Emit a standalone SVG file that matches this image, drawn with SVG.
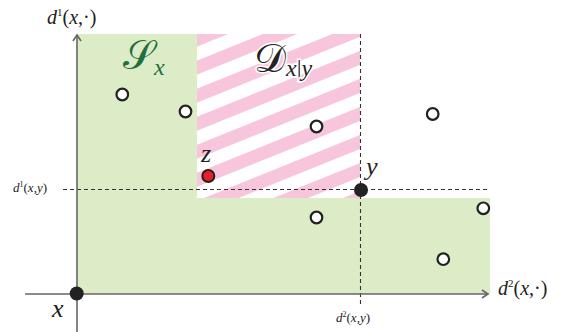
<svg xmlns="http://www.w3.org/2000/svg" width="565" height="332" viewBox="0 0 565 332">
<style>
.m{font-family:"Liberation Serif","DejaVu Serif",serif;fill:#222}
.i{font-style:italic}
.cal{font-family:"DejaVu Serif","DejaVu Sans",serif}
.open{fill:#fff;stroke:#222;stroke-width:2.2}
.dash{stroke:#333;stroke-width:1.1;stroke-dasharray:4 3;fill:none}
.axis{stroke:#666;stroke-width:1.6;fill:none}
</style>
<defs>
<pattern id="hatch" width="26" height="26" patternUnits="userSpaceOnUse" patternTransform="rotate(-22)">
<rect width="26" height="26" fill="#fff"/>
<rect width="26" height="13" fill="#f8c6dc"/>
</pattern>
</defs>
<g id="region-S">
<path d="M77,34 H197 V198 H490 V294 H77 Z" fill="#dcecc7"/>
</g>
<g id="region-D">
<rect x="197" y="34" width="163" height="164" fill="url(#hatch)"/>
</g>
<g id="connectors">
<line class="dash" x1="63" y1="189.5" x2="490" y2="189.5"/>
<line class="dash" x1="360.5" y1="34" x2="360.5" y2="306"/>
<line class="axis" x1="25" y1="294" x2="488" y2="294"/>
<path class="axis" d="M482,290 L488,294 L482,298"/>
<line class="axis" x1="77" y1="332" x2="77" y2="35"/>
<path class="axis" d="M73,41 L77,35 L81,41"/>
</g>
<g id="labels">
<text class="m" x="47" y="24" font-size="20"><tspan class="i">d</tspan><tspan font-size="11" dy="-8">1</tspan><tspan dy="8">(</tspan><tspan class="i">x</tspan>,·)</text>
<text class="m" x="498" y="295" font-size="20"><tspan class="i">d</tspan><tspan font-size="11" dy="-8">2</tspan><tspan dy="8">(</tspan><tspan class="i">x</tspan>,·)</text>
<text class="m" x="13" y="192" font-size="13"><tspan class="i">d</tspan><tspan font-size="8" dy="-5">1</tspan><tspan dy="5">(</tspan><tspan class="i">x</tspan>,<tspan class="i">y</tspan>)</text>
<text class="m" x="336" y="322" font-size="13"><tspan class="i">d</tspan><tspan font-size="8" dy="-5">2</tspan><tspan dy="5">(</tspan><tspan class="i">x</tspan>,<tspan class="i">y</tspan>)</text>
</g>
<g id="S-label">
<text x="123" y="69" font-size="40" fill="#1f7040"><tspan class="cal">𝒮</tspan><tspan class="m i" style="fill:#1f7040" font-size="24" dy="6">x</tspan></text>
</g>
<g id="D-label">
<text x="254" y="72" font-size="40" fill="#222" stroke="#fff" stroke-width="3" paint-order="stroke"><tspan class="cal">𝒟</tspan><tspan class="m" font-size="24" dy="4"><tspan class="i">x</tspan>|<tspan class="i">y</tspan></tspan></text>
</g>
<g id="points">
<circle class="open" cx="122.3" cy="94.5" r="5.8"/>
<circle class="open" cx="185.5" cy="111.5" r="5.8"/>
<circle class="open" cx="316.5" cy="126.5" r="5.8"/>
<circle class="open" cx="432.7" cy="114" r="5.8"/>
<circle class="open" cx="316.5" cy="217.5" r="5.8"/>
<circle class="open" cx="483.3" cy="208.3" r="5.8"/>
<circle class="open" cx="443.3" cy="259.2" r="5.8"/>
</g>
<g id="node-z">
<circle cx="208.3" cy="176" r="6" fill="#e8202a" stroke="#222" stroke-width="2"/>
<text class="m i" x="201" y="162" font-size="26">z</text>
</g>
<g id="node-y">
<circle cx="361" cy="190" r="7" fill="#222"/>
<text class="m i" x="366" y="175" font-size="26">y</text>
</g>
<g id="node-x">
<circle cx="76.7" cy="293.5" r="7" fill="#222"/>
<text class="m i" x="52" y="317" font-size="26">x</text>
</g>
</svg>
